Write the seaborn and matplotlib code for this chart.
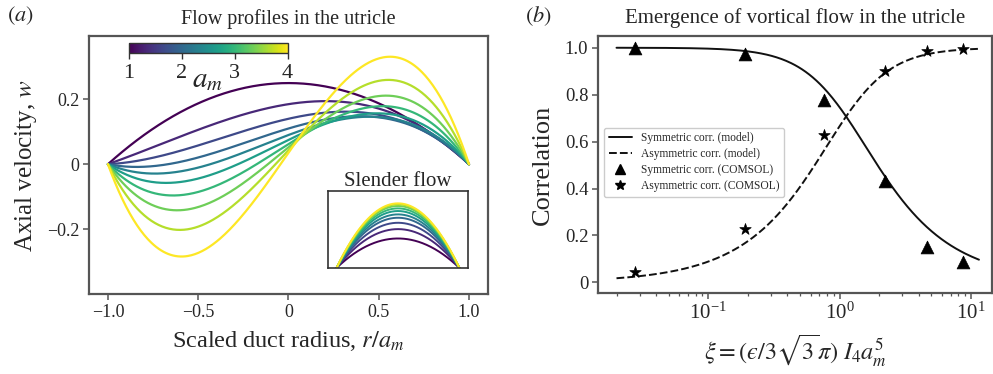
import numpy as np
import pandas as pd
import matplotlib
matplotlib.use("Agg")
import matplotlib.pyplot as plt
import seaborn as sns
from matplotlib.lines import Line2D
from matplotlib.cm import ScalarMappable
from matplotlib.colors import Normalize
from matplotlib.ticker import FixedLocator, FixedFormatter, LogLocator, NullFormatter

# ---- panel (a): axial velocity profiles w(r) = A(1-r^2) + B r(1-r^2) ----
a_m_values = [1.0, 1.333, 1.667, 2.0, 2.333, 2.667, 3.0, 3.333, 3.667, 4.0]
sym_amp = [0.25, 0.185, 0.14, 0.11, 0.09, 0.075, 0.062, 0.052, 0.043, 0.035]
asym_amp = [0.0, 0.087, 0.126, 0.165, 0.208, 0.268, 0.352, 0.456, 0.599, 0.799]
# slender-flow (Poiseuille-like) peak heights, normalised
slender_peak = [0.456, 0.601, 0.699, 0.777, 0.829, 0.881, 0.922, 0.959, 0.984, 1.0]

# ---- panel (b): symmetric / asymmetric correlation ----
xi_comsol = [0.0275, 0.191, 0.759, 2.20, 4.62, 8.69]
sym_comsol = [1.0, 0.972, 0.777, 0.433, 0.150, 0.085]
asym_comsol = [0.043, 0.228, 0.626, 0.900, 0.987, 0.996]
xi_model_range = [0.02, 11.5]
xi_cross = 1.12

x_ticks_a = [-1.0, -0.5, 0.0, 0.5, 1.0]
x_ticklabels_a = ["\u22121.0", "\u22120.5", "0", "0.5", "1.0"]
y_ticks_a = [-0.2, 0.0, 0.2]
y_ticklabels_a = ["\u22120.2", "0", "0.2"]
y_ticks_b = [0.0, 0.2, 0.4, 0.6, 0.8, 1.0]
y_ticklabels_b = ["0", "0.2", "0.4", "0.6", "0.8", "1.0"]

sns.set_theme(style="ticks")
plt.rcParams["font.family"] = ["Liberation Serif", "DejaVu Serif"]
plt.rcParams["mathtext.fontset"] = "stix"

SPINE = "#555555"

fig = plt.figure(figsize=(9.93, 3.74), dpi=100)
ax = fig.add_axes([0.0896, 0.2139, 0.4018, 0.6898])
ax2 = fig.add_axes([0.6022, 0.2166, 0.3968, 0.6872])

# ----- profiles -----
r = np.linspace(-1, 1, 300)
rows = []
for am, A, B in zip(a_m_values, sym_amp, asym_amp):
    w = A * (1 - r**2) + B * r * (1 - r**2)
    rows.append(pd.DataFrame({"r": r, "w": w, "a_m": am}))
prof = pd.concat(rows, ignore_index=True)
sns.lineplot(data=prof, x="r", y="w", hue="a_m", palette="viridis",
             hue_norm=(1, 4), legend=False, ax=ax, linewidth=1.6,
             estimator=None, sort=False)
ax.set_xlim(-1.105, 1.105)
ax.set_ylim(-0.4, 0.395)
ax.xaxis.set_major_locator(FixedLocator(x_ticks_a))
ax.xaxis.set_major_formatter(FixedFormatter(x_ticklabels_a))
ax.yaxis.set_major_locator(FixedLocator(y_ticks_a))
ax.yaxis.set_major_formatter(FixedFormatter(y_ticklabels_a))
ax.set_xlabel(r"Scaled duct radius, $r/a_m$", fontsize=17.5, labelpad=6)
ax.set_ylabel(r"Axial velocity, $w$", fontsize=18, labelpad=6)
ax.set_title("Flow profiles in the utricle", fontsize=14.5, pad=9)

# colour bar for a_m
cax = ax.inset_axes([0.100, 0.934, 0.398, 0.039])
cb = fig.colorbar(ScalarMappable(norm=Normalize(1, 4), cmap="viridis"),
                  cax=cax, orientation="horizontal", ticks=[1, 2, 3, 4])
cb.outline.set_edgecolor("#333333")
cb.outline.set_linewidth(1.0)
cax.tick_params(labelsize=16, length=4, width=1, color="#333333", pad=4)
ax.text(0.296, 0.83, r"$a_m$", transform=ax.transAxes, fontsize=21,
        ha="center", va="center")

# slender flow inset
iax = ax.inset_axes([0.599, 0.101, 0.351, 0.298])
rows = []
for am, h in zip(a_m_values, slender_peak):
    rows.append(pd.DataFrame({"r": r, "w": h * (1 - r**2), "a_m": am}))
slender = pd.concat(rows, ignore_index=True)
sns.lineplot(data=slender, x="r", y="w", hue="a_m", palette="viridis",
             hue_norm=(1, 4), legend=False, ax=iax, linewidth=1.4,
             estimator=None, sort=False)
iax.set_xlim(-1.14, 1.14)
iax.set_ylim(0, 1.19)
iax.set_xticks([])
iax.set_yticks([])
iax.set_xlabel("")
iax.set_ylabel("")
iax.set_title("Slender flow", fontsize=15, pad=3)
for s in iax.spines.values():
    s.set_color("#333333")
    s.set_linewidth(1.2)

# ----- correlations -----
xi = np.geomspace(xi_model_range[0], xi_model_range[1], 300)
q = xi / xi_cross
model = pd.DataFrame({"xi": xi,
                      "sym": 1 / np.sqrt(1 + q**2),
                      "asym": q / np.sqrt(1 + q**2)})
sns.lineplot(data=model, x="xi", y="sym", ax=ax2, color="#111111",
             linewidth=1.4)
sns.lineplot(data=model, x="xi", y="asym", ax=ax2, color="#111111",
             linewidth=1.4, dashes=False, linestyle=(0, (4, 1.6)))
pts = pd.DataFrame({"xi": xi_comsol, "sym": sym_comsol, "asym": asym_comsol})
sns.scatterplot(data=pts, x="xi", y="sym", ax=ax2, marker="^", s=85,
                color="black", edgecolor="black", linewidth=0.5, zorder=3)
sns.scatterplot(data=pts, x="xi", y="asym", ax=ax2, marker="*", s=75,
                color="black", edgecolor="black", linewidth=0.5, zorder=3)
ax2.set_xscale("log")
ax2.set_xlim(10**-1.84, 10**1.16)
ax2.set_ylim(-0.045, 1.05)
ax2.xaxis.set_major_locator(LogLocator(base=10, numticks=10))
ax2.xaxis.set_minor_locator(LogLocator(base=10, subs=np.arange(2, 10), numticks=10))
ax2.xaxis.set_minor_formatter(NullFormatter())
ax2.yaxis.set_major_locator(FixedLocator(y_ticks_b))
ax2.yaxis.set_major_formatter(FixedFormatter(y_ticklabels_b))
ax2.set_xlabel("$\\xi = (\u03f5/3\\sqrt{3}\\pi)\\ I_4 a_m^5$", fontsize=17.5,
               labelpad=6)
ax2.set_ylabel("Correlation", fontsize=19, labelpad=8)
ax2.set_title("Emergence of vortical flow in the utricle", fontsize=15, pad=9)

handles = [
    Line2D([], [], color="#111111", lw=1.4, label="Symmetric corr. (model)"),
    Line2D([], [], color="#111111", lw=1.4, linestyle=(0, (4, 1.6)),
           label="Asymmetric corr. (model)"),
    Line2D([], [], color="black", marker="^", linestyle="none", markersize=7,
           label="Symmetric corr. (COMSOL)"),
    Line2D([], [], color="black", marker="*", linestyle="none", markersize=7,
           label="Asymmetric corr. (COMSOL)"),
]
leg = ax2.legend(handles=handles, loc="lower left",
                 bbox_to_anchor=(0.015, 0.374), borderaxespad=0,
                 fontsize=8.3, labelspacing=0.35, handlelength=2.0,
                 frameon=True, fancybox=True, edgecolor="#cccccc",
                 framealpha=1.0)

for a in (ax, ax2):
    for s in a.spines.values():
        s.set_color(SPINE)
        s.set_linewidth(1.6)
    a.tick_params(axis="both", which="major", direction="out", length=4,
                  width=1.1, color=SPINE, pad=3)
    a.tick_params(axis="both", which="minor", direction="out", length=2.5,
                  width=0.9, color=SPINE)
ax.tick_params(axis="both", labelsize=13)
ax2.tick_params(axis="y", labelsize=13.5)
ax2.tick_params(axis="x", labelsize=15)

fig.text(0.007, 0.958, r"$(a)$", fontsize=16, ha="left", va="center")
fig.text(0.529, 0.958, r"$(b)$", fontsize=16, ha="left", va="center")

fig.savefig("out.png", dpi=100)
